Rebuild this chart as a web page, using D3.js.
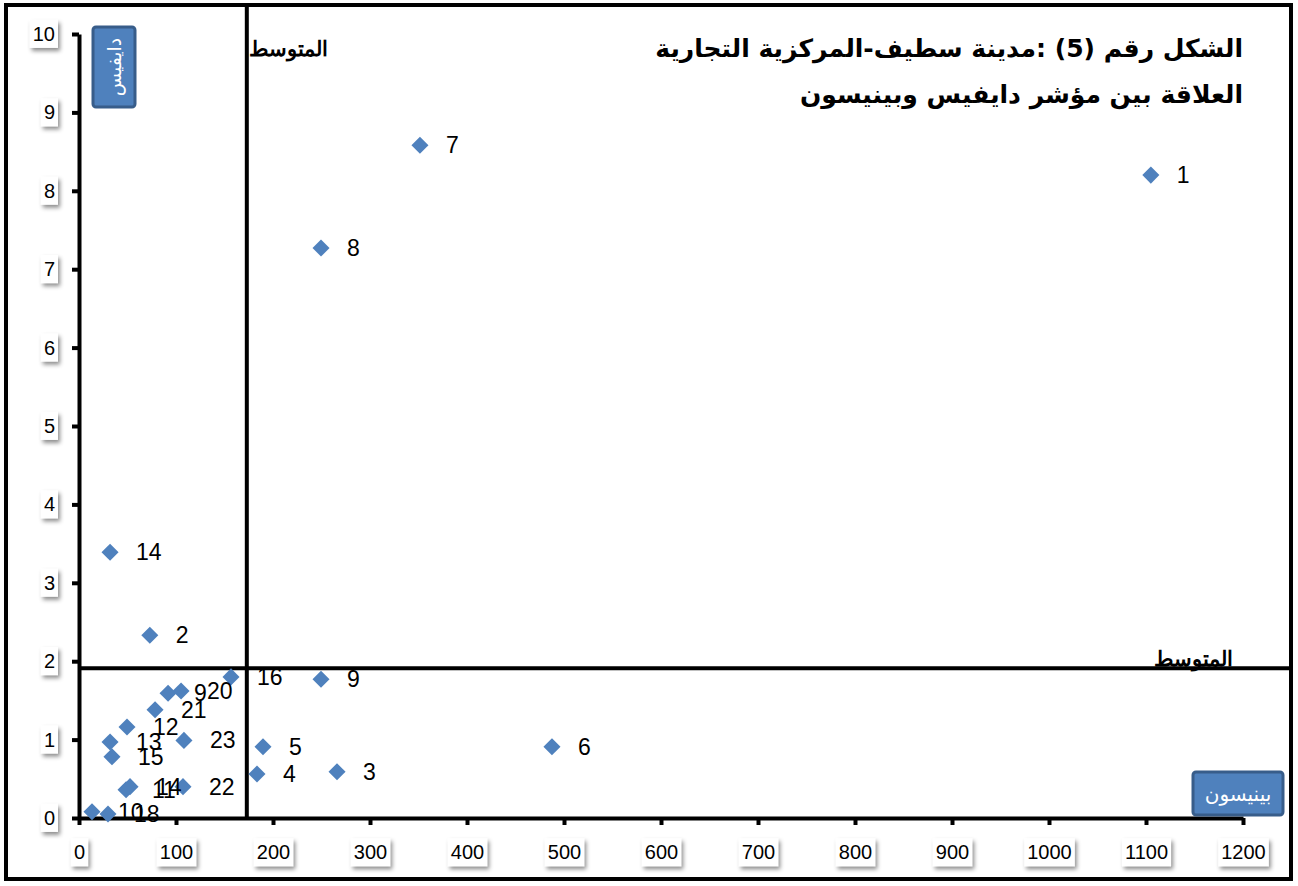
<!DOCTYPE html>
<html lang="ar">
<head>
    <meta charset="UTF-8">
    <title>دايفيس و بينيسون</title>
    <script src="https://d3js.org/d3.v7.min.js"></script>
    <style>
        body {
            margin: 0;
            padding: 0;
            background-color: white;
        }
        svg {
            display: block;
        }
        .lbl {
            font-family: "Liberation Sans", Arial, sans-serif;
            font-size: 23px;
            fill: #000;
        }
        .tick text {
            font-family: "Liberation Sans", Arial, sans-serif;
            font-size: 20px;
            fill: #000;
        }
    </style>
</head>
<body>
    <div id="chart"></div>

    <script>
        // بيانات الشكل (قراءة تقريبية من الصورة)
        const labels  = ["1", "2", "3", "4", "5", "6", "7", "8", "9", "10", "11", "12",
                         "13", "14", "14", "15", "16", "18", "9", "20", "21", "22", "23"];
        const benison = [1105, 73, 266, 183.5, 189.7, 487.6, 351.5, 249.5, 249.5, 13.4, 48.5, 49.5,
                         32, 32, 52.6, 34, 156.7, 29.9, 91.8, 105.2, 78.4, 107.2, 108.2];
        const davis   = [8.20, 2.33, 0.59, 0.56, 0.91, 0.91, 8.58, 7.27, 1.77, 0.08, 0.36, 1.16,
                         0.97, 3.39, 0.40, 0.78, 1.80, 0.05, 1.59, 1.62, 1.38, 0.40, 0.99];
        const xTicks = [0, 100, 200, 300, 400, 500, 600, 700, 800, 900, 1000, 1100, 1200];
        const yTicks = [0, 1, 2, 3, 4, 5, 6, 7, 8, 9, 10];
        const meanX = 173;
        const meanY = 1.91;

        const titleLines = ["الشكل رقم (5) :مدينة سطيف-المركزية التجارية",
                            "العلاقة بين مؤشر دايفيس وبينيسون"];

        const data = labels.map((l, i) => ({ label: l, x: benison[i], y: davis[i] }));

        const width = 1298;
        const height = 886;
        const margin = { top: 34, right: 55, bottom: 68, left: 79 };

        const svg = d3.select("#chart")
            .append("svg")
            .attr("width", width)
            .attr("height", height);

        const defs = svg.append("defs");
        const shadow = defs.append("filter").attr("id", "shadow")
            .attr("x", "-30%").attr("y", "-30%").attr("width", "170%").attr("height", "170%");
        shadow.append("feDropShadow")
            .attr("dx", 2).attr("dy", 3).attr("stdDeviation", 2)
            .attr("flood-color", "#000").attr("flood-opacity", 0.45);

        // الإطار
        svg.append("rect")
            .attr("x", 6).attr("y", 5)
            .attr("width", 1285).attr("height", 874)
            .attr("fill", "white")
            .attr("stroke", "#000")
            .attr("stroke-width", 4);

        const x = d3.scaleLinear()
            .domain([0, 1200])
            .range([margin.left, width - margin.right]);

        const y = d3.scaleLinear()
            .domain([0, 10])
            .range([height - margin.bottom, margin.top]);

        // خطوط المتوسط
        svg.append("line")
            .attr("x1", x(meanX)).attr("x2", x(meanX))
            .attr("y1", 5).attr("y2", y(0))
            .attr("stroke", "#000").attr("stroke-width", 4);
        svg.append("line")
            .attr("x1", x(0)).attr("x2", 1291)
            .attr("y1", y(meanY)).attr("y2", y(meanY))
            .attr("stroke", "#000").attr("stroke-width", 4);

        svg.append("text")
            .attr("x", x(meanX) + 2).attr("y", 56)
            .attr("font-family", "DejaVu Serif, serif")
            .attr("font-size", 21)
            .attr("font-weight", "bold")
            .attr("direction", "rtl")
            .attr("text-anchor", "end")
            .text("المتوسط");
        svg.append("text")
            .attr("x", 1233).attr("y", y(meanY) - 2)
            .attr("font-family", "DejaVu Serif, serif")
            .attr("font-size", 21)
            .attr("font-weight", "bold")
            .attr("direction", "rtl")
            .attr("text-anchor", "start")
            .text("المتوسط");

        // المحاور
        const xAxis = svg.append("g")
            .attr("transform", `translate(0,${y(0)})`)
            .call(d3.axisBottom(x).tickValues(xTicks).tickFormat(d3.format("d"))
                .tickSize(7).tickSizeOuter(0).tickPadding(20));
        const yAxis = svg.append("g")
            .attr("transform", `translate(${x(0)},0)`)
            .call(d3.axisLeft(y).tickValues(yTicks).tickFormat(d3.format("d"))
                .tickSize(7).tickSizeOuter(0).tickPadding(17));

        [xAxis, yAxis].forEach(g => {
            g.select(".domain").attr("stroke", "#000").attr("stroke-width", 4);
            g.selectAll(".tick line").attr("stroke", "#000").attr("stroke-width", 4);
            g.selectAll(".tick text").each(function() {
                const b = this.getBBox();
                d3.select(this.parentNode).insert("rect", "text")
                    .attr("x", b.x - 3).attr("y", b.y - 3)
                    .attr("width", b.width + 6).attr("height", b.height + 6)
                    .attr("fill", "white")
                    .attr("filter", "url(#shadow)");
            });
        });

        // النقاط
        const diamond = d3.symbol().type(d3.symbolDiamond2).size(185);
        svg.selectAll(".pt")
            .data(data)
            .enter()
            .append("path")
            .attr("class", "pt")
            .attr("d", diamond)
            .attr("transform", d => `translate(${x(d.x)},${y(d.y)})`)
            .attr("fill", "#4F81BD");

        svg.selectAll(".lbl")
            .data(data)
            .enter()
            .append("text")
            .attr("class", "lbl")
            .attr("x", d => x(d.x) + 26)
            .attr("y", d => y(d.y) + 8)
            .text(d => d.label);

        // العنوان
        svg.selectAll(".title")
            .data(titleLines)
            .enter()
            .append("text")
            .attr("class", "title")
            .attr("x", 1243)
            .attr("y", (d, i) => 57 + i * 46)
            .attr("direction", "rtl")
            .attr("text-anchor", "start")
            .attr("font-family", "DejaVu Sans, sans-serif")
            .attr("font-weight", "bold")
            .attr("font-size", 25)
            .text(d => d);

        // عناوين المحاور
        const yt = svg.append("g");
        yt.append("rect")
            .attr("x", 93).attr("y", 27).attr("width", 42).attr("height", 80)
            .attr("rx", 3)
            .attr("fill", "#4F81BD").attr("stroke", "#385D8A").attr("stroke-width", 3);
        yt.append("text")
            .attr("transform", "translate(121,67) rotate(-90)")
            .attr("text-anchor", "middle")
            .attr("direction", "rtl")
            .attr("font-family", "DejaVu Sans, sans-serif")
            .attr("font-size", 19)
            .attr("fill", "white")
            .text("دايفيس");

        const xt = svg.append("g");
        xt.append("rect")
            .attr("x", 1193).attr("y", 772).attr("width", 90).attr("height", 43)
            .attr("rx", 3)
            .attr("fill", "#4F81BD").attr("stroke", "#385D8A").attr("stroke-width", 3);
        xt.append("text")
            .attr("x", 1238).attr("y", 801)
            .attr("text-anchor", "middle")
            .attr("direction", "rtl")
            .attr("font-family", "DejaVu Sans, sans-serif")
            .attr("font-size", 20)
            .attr("fill", "white")
            .text("بينيسون");
    </script>
</body>
</html>
